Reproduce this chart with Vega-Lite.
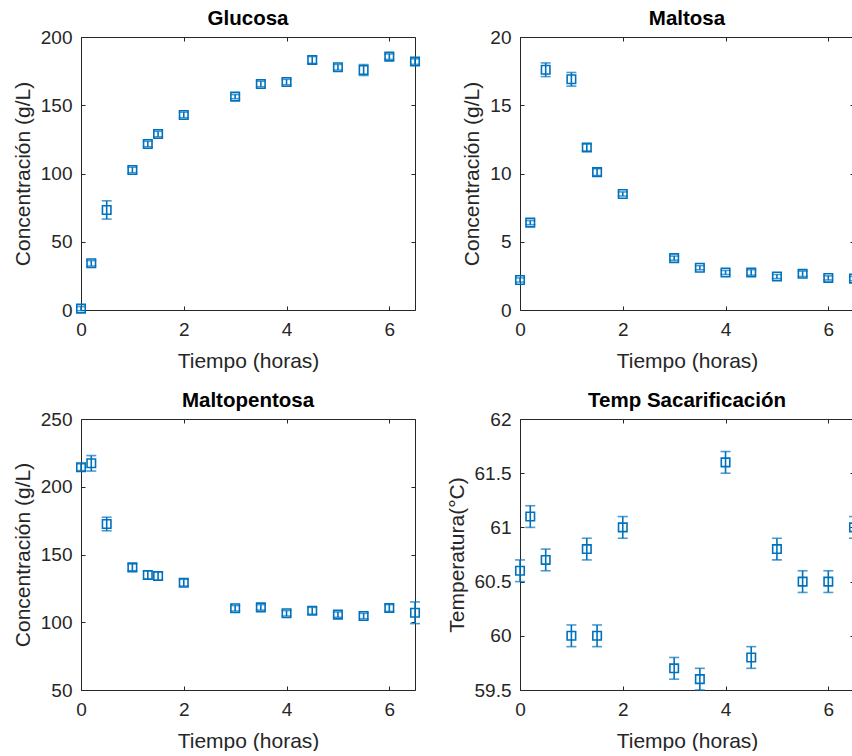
{
  "$schema": "https://vega.github.io/schema/vega-lite/v6.json",
  "autosize": "pad",
  "padding": {"left": 12, "top": 8, "right": 0, "bottom": 0},
  "background": "white",
  "datasets": {
    "glucosa": [
      {"t": 0, "v": 1, "e": 1.5}, {"t": 0.2, "v": 34.2, "e": 2}, {"t": 0.5, "v": 73.3, "e": 6.7},
      {"t": 1, "v": 102.6, "e": 2}, {"t": 1.3, "v": 121.6, "e": 2}, {"t": 1.5, "v": 128.9, "e": 2},
      {"t": 2, "v": 142.9, "e": 2}, {"t": 3, "v": 156.3, "e": 1.5}, {"t": 3.5, "v": 165.6, "e": 2},
      {"t": 4, "v": 167, "e": 2}, {"t": 4.5, "v": 183.2, "e": 2.5}, {"t": 5, "v": 177.8, "e": 2},
      {"t": 5.5, "v": 175.8, "e": 4}, {"t": 6, "v": 185.6, "e": 2}, {"t": 6.5, "v": 182, "e": 2}
    ],
    "maltosa": [
      {"t": 0, "v": 2.2, "e": 0.15}, {"t": 0.2, "v": 6.4, "e": 0.15}, {"t": 0.5, "v": 17.6, "e": 0.5},
      {"t": 1, "v": 16.9, "e": 0.5}, {"t": 1.3, "v": 11.9, "e": 0.25}, {"t": 1.5, "v": 10.1, "e": 0.25},
      {"t": 2, "v": 8.5, "e": 0.15}, {"t": 3, "v": 3.8, "e": 0.15}, {"t": 3.5, "v": 3.1, "e": 0.15},
      {"t": 4, "v": 2.75, "e": 0.15}, {"t": 4.5, "v": 2.75, "e": 0.2}, {"t": 5, "v": 2.45, "e": 0.15},
      {"t": 5.5, "v": 2.65, "e": 0.2}, {"t": 6, "v": 2.35, "e": 0.15}, {"t": 6.5, "v": 2.3, "e": 0.15}
    ],
    "maltopentosa": [
      {"t": 0, "v": 214.4, "e": 2.5}, {"t": 0.2, "v": 217.3, "e": 5.7}, {"t": 0.5, "v": 172.5, "e": 5},
      {"t": 1, "v": 140.5, "e": 2.5}, {"t": 1.3, "v": 134.9, "e": 3}, {"t": 1.5, "v": 134.1, "e": 3},
      {"t": 2, "v": 129.2, "e": 2.5}, {"t": 3, "v": 110.3, "e": 2}, {"t": 3.5, "v": 111, "e": 2},
      {"t": 4, "v": 106.6, "e": 2}, {"t": 4.5, "v": 108.5, "e": 2.5}, {"t": 5, "v": 105.6, "e": 2},
      {"t": 5.5, "v": 104.6, "e": 2}, {"t": 6, "v": 110.5, "e": 2.5}, {"t": 6.5, "v": 107, "e": 8}
    ],
    "temp": [
      {"t": 0, "v": 60.6, "e": 0.1}, {"t": 0.2, "v": 61.1, "e": 0.1}, {"t": 0.5, "v": 60.7, "e": 0.1},
      {"t": 1, "v": 60.0, "e": 0.1}, {"t": 1.3, "v": 60.8, "e": 0.1}, {"t": 1.5, "v": 60.0, "e": 0.1},
      {"t": 2, "v": 61.0, "e": 0.1}, {"t": 3, "v": 59.7, "e": 0.1}, {"t": 3.5, "v": 59.6, "e": 0.1},
      {"t": 4, "v": 61.6, "e": 0.1}, {"t": 4.5, "v": 59.8, "e": 0.1}, {"t": 5, "v": 60.8, "e": 0.1},
      {"t": 5.5, "v": 60.5, "e": 0.1}, {"t": 6, "v": 60.5, "e": 0.1}, {"t": 6.5, "v": 61.0, "e": 0.1}
    ]
  },
  "columns": 2,
  "spacing": {"row": 109, "column": 105},
  "bounds": "flush",
  "concat": [
    {
      "width": 334, "height": 273,
      "title": {"text": "Glucosa"},
      "data": {"name": "glucosa"},
      "layer": [
        {
          "mark": {"type": "errorbar", "ticks": {"size": 10, "thickness": 1.6}, "color": "#0072BD", "thickness": 1.6, "clip": false},
          "encoding": {
            "x": {"field": "t", "type": "quantitative", "scale": {"domain": [0, 6.5]}, "axis": {"values": [0, 2, 4, 6], "title": "Tiempo (horas)"}},
            "y": {"field": "v", "type": "quantitative", "scale": {"domain": [0, 200]}, "axis": {"values": [0, 50, 100, 150, 200], "title": "Concentración (g/L)"}},
            "yError": {"field": "e"}
          }
        },
        {
          "mark": {"type": "point", "shape": "square", "size": 72, "filled": false, "strokeWidth": 1.6, "color": "#0072BD", "opacity": 1, "clip": false},
          "encoding": {
            "x": {"field": "t", "type": "quantitative", "scale": {"domain": [0, 6.5]}, "axis": {"values": [0, 2, 4, 6], "labels": false, "title": null}},
            "y": {"field": "v", "type": "quantitative", "scale": {"domain": [0, 200]}, "axis": {"values": [0, 50, 100, 150, 200], "labels": false, "title": null}}
          }
        }
      ],
      "resolve": {"axis": {"x": "independent", "y": "independent"}}
    },
    {
      "width": 334, "height": 273,
      "title": {"text": "Maltosa"},
      "data": {"name": "maltosa"},
      "layer": [
        {
          "mark": {"type": "errorbar", "ticks": {"size": 10, "thickness": 1.6}, "color": "#0072BD", "thickness": 1.6, "clip": false},
          "encoding": {
            "x": {"field": "t", "type": "quantitative", "scale": {"domain": [0, 6.5]}, "axis": {"values": [0, 2, 4, 6], "title": "Tiempo (horas)"}},
            "y": {"field": "v", "type": "quantitative", "scale": {"domain": [0, 20]}, "axis": {"values": [0, 5, 10, 15, 20], "title": "Concentración (g/L)"}},
            "yError": {"field": "e"}
          }
        },
        {
          "mark": {"type": "point", "shape": "square", "size": 72, "filled": false, "strokeWidth": 1.6, "color": "#0072BD", "opacity": 1, "clip": false},
          "encoding": {
            "x": {"field": "t", "type": "quantitative", "scale": {"domain": [0, 6.5]}, "axis": {"values": [0, 2, 4, 6], "labels": false, "title": null}},
            "y": {"field": "v", "type": "quantitative", "scale": {"domain": [0, 20]}, "axis": {"values": [0, 5, 10, 15, 20], "labels": false, "title": null}}
          }
        }
      ],
      "resolve": {"axis": {"x": "independent", "y": "independent"}}
    },
    {
      "width": 334, "height": 271,
      "title": {"text": "Maltopentosa"},
      "data": {"name": "maltopentosa"},
      "layer": [
        {
          "mark": {"type": "errorbar", "ticks": {"size": 10, "thickness": 1.6}, "color": "#0072BD", "thickness": 1.6, "clip": false},
          "encoding": {
            "x": {"field": "t", "type": "quantitative", "scale": {"domain": [0, 6.5]}, "axis": {"values": [0, 2, 4, 6], "title": "Tiempo (horas)"}},
            "y": {"field": "v", "type": "quantitative", "scale": {"domain": [50, 250]}, "axis": {"values": [50, 100, 150, 200, 250], "title": "Concentración (g/L)"}},
            "yError": {"field": "e"}
          }
        },
        {
          "mark": {"type": "point", "shape": "square", "size": 72, "filled": false, "strokeWidth": 1.6, "color": "#0072BD", "opacity": 1, "clip": false},
          "encoding": {
            "x": {"field": "t", "type": "quantitative", "scale": {"domain": [0, 6.5]}, "axis": {"values": [0, 2, 4, 6], "labels": false, "title": null}},
            "y": {"field": "v", "type": "quantitative", "scale": {"domain": [50, 250]}, "axis": {"values": [50, 100, 150, 200, 250], "labels": false, "title": null}}
          }
        }
      ],
      "resolve": {"axis": {"x": "independent", "y": "independent"}}
    },
    {
      "width": 334, "height": 271,
      "title": {"text": "Temp Sacarificación"},
      "data": {"name": "temp"},
      "layer": [
        {
          "mark": {"type": "errorbar", "ticks": {"size": 10, "thickness": 1.6}, "color": "#0072BD", "thickness": 1.6, "clip": false},
          "encoding": {
            "x": {"field": "t", "type": "quantitative", "scale": {"domain": [0, 6.5]}, "axis": {"values": [0, 2, 4, 6], "title": "Tiempo (horas)"}},
            "y": {"field": "v", "type": "quantitative", "scale": {"domain": [59.5, 62]}, "axis": {"values": [59.5, 60, 60.5, 61, 61.5, 62], "format": "~g", "title": "Temperatura(°C)"}},
            "yError": {"field": "e"}
          }
        },
        {
          "mark": {"type": "point", "shape": "square", "size": 72, "filled": false, "strokeWidth": 1.6, "color": "#0072BD", "opacity": 1, "clip": false},
          "encoding": {
            "x": {"field": "t", "type": "quantitative", "scale": {"domain": [0, 6.5]}, "axis": {"values": [0, 2, 4, 6], "labels": false, "title": null}},
            "y": {"field": "v", "type": "quantitative", "scale": {"domain": [59.5, 62]}, "axis": {"values": [59.5, 60, 60.5, 61, 61.5, 62], "labels": false, "title": null}}
          }
        }
      ],
      "resolve": {"axis": {"x": "independent", "y": "independent"}}
    }
  ],
  "config": {
    "font": "Liberation Sans",
    "view": {"stroke": null},
    "title": {"fontSize": 20.5, "fontWeight": "bold", "color": "#000000", "anchor": "middle", "offset": -1, "font": "Liberation Sans"},
    "axis": {
      "grid": false,
      "labelFlush": false,
      "domainColor": "#262626",
      "domainWidth": 1,
      "tickColor": "#262626",
      "tickSize": -4,
      "labelColor": "#262626",
      "labelFontSize": 19,
      "labelFont": "Liberation Sans",
      "labelPadding": 13,
      "titleColor": "#262626",
      "titleFontSize": 21,
      "titleFontWeight": "normal",
      "titleFont": "Liberation Sans",
      "titlePadding": 7
    },
    "axisX": {"labelPadding": 14, "titlePadding": 11}
  }
}
